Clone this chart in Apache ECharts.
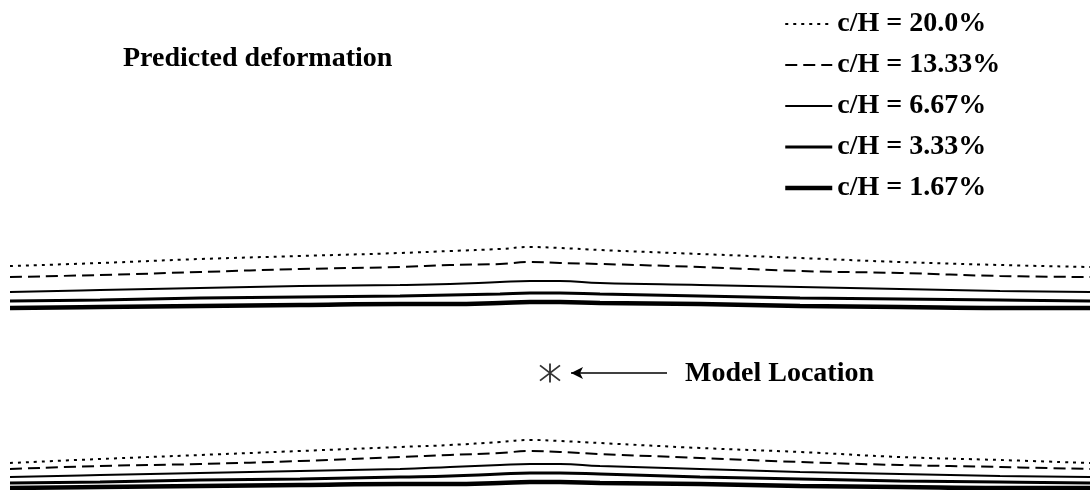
<!DOCTYPE html>
<html>
<head>
<meta charset="utf-8">
<script src="https://cdn.jsdelivr.net/npm/echarts@6/dist/echarts.min.js"></script>
<style>
  html, body { margin: 0; padding: 0; background: #fff; }
  #main { width: 1090px; height: 490px; }
</style>
</head>
<body>
<div id="main"></div>
<script>
var chart = echarts.init(document.getElementById('main'));

// horizontal position along the section
var xPos = [10, 100, 200, 300, 400, 450, 500, 530, 560, 600, 700, 800, 900, 1000, 1090];

// vertical position of each deformed line (down = larger), upper group
var top200 = [266, 263, 259, 256, 253, 251, 249, 247, 248, 250, 254, 258, 262, 265, 267];
var top133 = [277, 275, 272, 269, 267, 265, 264, 262, 263, 264, 267, 271, 273, 276, 277];
var top667 = [292, 290, 288, 286, 285, 284, 282, 281, 281, 283, 285, 287, 289, 291, 292];
var top333 = [301, 300, 298, 297, 296, 295, 294, 293, 293, 294, 296, 298, 299, 300, 301];
var top167 = [308, 307, 306, 305, 304, 304, 303, 302, 302, 303, 304, 306, 307, 308, 308];

// lower group
var bot200 = [463, 459, 455, 451, 447, 445, 442, 440, 441, 443, 448, 452, 457, 460, 463];
var bot133 = [469, 466, 464, 461, 457, 455, 453, 451, 452, 454, 458, 462, 465, 467, 469];
var bot667 = [477, 475, 473, 471, 469, 467, 465, 464, 464, 466, 469, 472, 474, 476, 477];
var bot333 = [483, 482, 480, 479, 477, 476, 474, 473, 473, 474, 477, 479, 481, 482, 483];
var bot167 = [488, 487, 486, 485, 484, 484, 483, 482, 482, 483, 484, 486, 487, 488, 488];

var names = ['c/H = 20.0%', 'c/H = 13.33%', 'c/H = 6.67%', 'c/H = 3.33%', 'c/H = 1.67%'];
var modelLoc = [550, 373];

var styles = [
  { width: 2, type: [3, 5] },
  { width: 2, type: [12, 6] },
  { width: 2, type: 'solid' },
  { width: 3, type: 'solid' },
  { width: 4.5, type: 'solid' }
];

function pairs(ys) {
  return xPos.map(function (x, i) { return [x, ys[i]]; });
}

var font = 'Liberation Serif, Times New Roman, serif';
var series = [];
[[top200, top133, top667, top333, top167], [bot200, bot133, bot667, bot333, bot167]].forEach(function (group) {
  group.forEach(function (ys, i) {
    series.push({
      name: names[i],
      type: 'line',
      data: pairs(ys),
      smooth: 0.45,
      symbol: 'none',
      silent: true,
      lineStyle: { color: '#000', width: styles[i].width, type: styles[i].type },
      itemStyle: { color: '#000' }
    });
  });
});

series.push({
  type: 'scatter',
  data: [modelLoc],
  symbol: 'path://M0,-10L0,10M-9,-8L9,8M-9,8L9,-8',
  symbolSize: [20, 19],
  itemStyle: { color: 'none', borderColor: '#000', borderWidth: 1.8 },
  silent: true,
  markLine: {
    silent: true,
    symbol: ['none', 'arrow'],
    symbolSize: [9, 12],
    label: { show: false },
    lineStyle: { color: '#000', width: 1.5, type: 'solid' },
    data: [[{ coord: [667, 373] }, { coord: [571, 373] }]]
  }
});

var legendData = names.map(function (n, i) {
  return {
    name: n,
    itemStyle: { color: 'transparent', borderColor: 'transparent', borderWidth: 0 },
    lineStyle: { color: '#000', width: styles[i].width, type: styles[i].type, opacity: 1 }
  };
});

chart.setOption({
  backgroundColor: '#fff',
  animation: false,
  title: [
    {
      text: 'Predicted deformation',
      left: 123, top: 45, padding: 0,
      textStyle: { fontFamily: font, fontWeight: 'bold', fontSize: 28, color: '#000' }
    },
    {
      text: 'Model Location',
      left: 685, top: 360, padding: 0,
      textStyle: { fontFamily: font, fontWeight: 'bold', fontSize: 28, color: '#000' }
    }
  ],
  legend: {
    data: legendData,
    orient: 'vertical',
    left: 783, top: 10,
    padding: 0,
    itemWidth: 47,
    itemHeight: 14,
    itemGap: 13,
    itemStyle: { color: 'transparent', borderColor: 'transparent', borderWidth: 0 },
    textStyle: { fontFamily: font, fontWeight: 'bold', fontSize: 28, color: '#000' }
  },
  grid: { left: 0, right: 0, top: 0, bottom: 0 },
  xAxis: { type: 'value', min: 0, max: 1090, show: false },
  yAxis: { type: 'value', min: 0, max: 490, inverse: true, show: false },
  series: series
});
</script>
</body>
</html>
